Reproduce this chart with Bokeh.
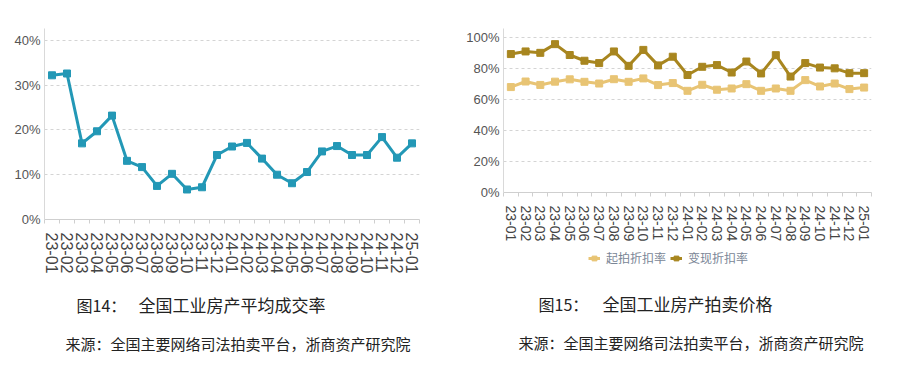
import math
from bokeh.plotting import figure
from bokeh.models import Range1d, FixedTicker, PrintfTickFormatter, Label, Legend, LegendItem
from bokeh.layouts import row, column
from bokeh.embed import file_html
from bokeh.resources import INLINE

months = ["23-01", "23-02", "23-03", "23-04", "23-05", "23-06", "23-07", "23-08",
          "23-09", "23-10", "23-11", "23-12", "24-01", "24-02", "24-03", "24-04",
          "24-05", "24-06", "24-07", "24-08", "24-09", "24-10", "24-11", "24-12", "25-01"]

# 全国工业房产平均成交率 (%)
deal_rate = [32.2, 32.6, 17.0, 19.7, 23.2, 13.1, 11.7, 7.5, 10.2, 6.7, 7.2, 14.4, 16.3,
             17.1, 13.6, 10.0, 8.1, 10.6, 15.2, 16.4, 14.4, 14.4, 18.4, 13.8, 17.0]

# 起拍折扣率 (%)
start_discount = [68.0, 71.6, 69.4, 71.5, 73.0, 71.4, 70.3, 73.1, 71.4, 73.6, 69.3, 70.6, 65.6,
                  69.5, 66.3, 67.1, 69.9, 65.6, 67.1, 65.6, 72.5, 68.4, 70.3, 66.7, 67.7]

# 变现折扣率 (%)
realized_discount = [89.3, 91.0, 90.1, 95.7, 88.7, 85.0, 83.5, 91.0, 81.7, 92.0, 82.0, 87.6, 75.8,
                     81.1, 82.2, 77.4, 84.5, 76.8, 88.6, 74.8, 83.5, 80.6, 80.1, 77.0, 77.0]

left_ticks = [0, 10, 20, 30, 40]
right_ticks = [0, 20, 40, 60, 80, 100]

series_names = ["起拍折扣率", "变现折扣率"]
fig14_no = "图14："
fig14_title = "全国工业房产平均成交率"
fig15_no = "图15："
fig15_title = "全国工业房产拍卖价格"
source_text = "来源：全国主要网络司法拍卖平台，浙商资产研究院"

NUM_FONT = "Liberation Sans"
CJK_FONT = "Noto Sans CJK SC"
TEAL = "#2398b6"
LIGHT = "#e8c474"
DARK = "#a8861f"

x_idx = list(range(len(months)))
labels_map = {i: m for i, m in enumerate(months)}
minor = [i - 0.5 for i in range(len(months) + 1)]


def style(p, yticks, xlab_size):
    p.outline_line_color = None
    p.background_fill_color = "white"
    p.border_fill_color = "white"
    p.xgrid.grid_line_color = None
    p.ygrid.ticker = FixedTicker(ticks=yticks)
    p.ygrid.grid_line_color = "#d4d4d4"
    p.ygrid.grid_line_dash = "3 3"
    p.ygrid.grid_line_width = 1

    ya = p.yaxis[0]
    ya.ticker = FixedTicker(ticks=yticks)
    ya.formatter = PrintfTickFormatter(format="%d%%")
    ya.axis_line_color = "#d9d9d9"
    ya.major_tick_line_color = None
    ya.major_tick_out = 0
    ya.major_tick_in = 0
    ya.minor_tick_line_color = None
    ya.major_label_text_font = NUM_FONT
    ya.major_label_text_font_size = "13px"
    ya.major_label_text_color = "#555555"
    ya.major_label_standoff = 4

    xa = p.xaxis[0]
    xa.ticker = FixedTicker(ticks=x_idx, minor_ticks=minor)
    xa.major_label_overrides = labels_map
    xa.major_label_orientation = -math.pi / 2
    xa.axis_line_color = "#cfcfcf"
    xa.major_tick_line_color = None
    xa.major_tick_out = 0
    xa.major_tick_in = 0
    xa.minor_tick_line_color = "#cfcfcf"
    xa.minor_tick_out = 4
    xa.minor_tick_in = 0
    xa.major_label_text_font = NUM_FONT
    xa.major_label_text_font_size = xlab_size
    xa.major_label_text_color = "#444444"
    xa.major_label_standoff = 9


def caption_fig(col_x, left_border, frame_w, right_border, top, bottom):
    # frame spans page coordinates [col_x+left_border, col_x+left_border+frame_w] x [top, bottom]
    x0 = col_x + left_border
    c = figure(frame_width=frame_w, frame_height=bottom - top, output_backend="svg",
               toolbar_location=None,
               x_range=Range1d(x0, x0 + frame_w), y_range=Range1d(bottom, top),
               x_axis_type=None, y_axis_type=None,
               min_border_left=left_border, min_border_right=right_border,
               min_border_top=0, min_border_bottom=0)
    c.outline_line_color = None
    c.grid.grid_line_color = None
    c.border_fill_color = "white"
    c.background_fill_color = "white"
    return c


def add_captions(c, no_x, title_x, src_x, no_text, title_text):
    c.add_layout(Label(x=no_x, y=303, text=no_text, text_font=CJK_FONT, text_font_size="16px",
                       text_color="#222222", text_baseline="middle"))
    c.add_layout(Label(x=title_x, y=303, text=title_text, text_font=CJK_FONT, text_font_size="17px",
                       text_color="#222222", text_baseline="middle"))
    c.add_layout(Label(x=src_x, y=342, text=source_text, text_font=CJK_FONT, text_font_size="15px",
                       text_color="#222222", text_baseline="middle"))


# ---------- Left chart ----------
p1 = figure(frame_width=375, frame_height=191, output_backend="svg", toolbar_location=None,
            x_range=Range1d(-0.5, len(months) - 0.5), y_range=Range1d(0, 42.65),
            min_border_left=44, min_border_right=31, min_border_top=28, min_border_bottom=56)
style(p1, left_ticks, "16px")
p1.line(x_idx, deal_rate, line_color=TEAL, line_width=3)
p1.scatter(x_idx, deal_rate, marker="square", size=7, fill_color=TEAL, line_color=TEAL)

c1 = caption_fig(0, 44, 375, 31, 275, 361)
add_captions(c1, 76, 138, 65, fig14_no, fig14_title)

# ---------- Right chart ----------
p2 = figure(frame_width=368, frame_height=164, output_backend="svg", toolbar_location=None,
            x_range=Range1d(-0.5, len(months) - 0.5), y_range=Range1d(0, 105.8),
            min_border_left=53, min_border_right=21, min_border_top=28, min_border_bottom=52)
style(p2, right_ticks, "14px")
p2.line(x_idx, start_discount, line_color=LIGHT, line_width=3)
p2.scatter(x_idx, start_discount, marker="square", size=7, fill_color=LIGHT, line_color=LIGHT)
p2.line(x_idx, realized_discount, line_color=DARK, line_width=3)
p2.scatter(x_idx, realized_discount, marker="square", size=7, fill_color=DARK, line_color=DARK)

c2 = caption_fig(450, 53, 368, 21, 244, 361)
# The same series drawn in the caption strip (outside its visible range) so that the
# legend below the axis can show their swatches.
ll1 = c2.line(x_idx, start_discount, line_color=LIGHT, line_width=3)
ls1 = c2.scatter(x_idx, start_discount, marker="square", size=7, fill_color=LIGHT, line_color=LIGHT)
ll2 = c2.line(x_idx, realized_discount, line_color=DARK, line_width=3)
ls2 = c2.scatter(x_idx, realized_discount, marker="square", size=7, fill_color=DARK, line_color=DARK)
legend = Legend(items=[LegendItem(label=series_names[0], renderers=[ll1, ls1]),
                       LegendItem(label=series_names[1], renderers=[ll2, ls2])],
                location=(85, 95), orientation="horizontal",
                label_text_font=CJK_FONT, label_text_font_size="12px",
                label_text_color="#7a8696", glyph_width=12, glyph_height=12,
                label_standoff=6, spacing=4, padding=0, margin=0,
                border_line_color=None, background_fill_alpha=0)
c2.add_layout(legend, "center")
add_captions(c2, 538, 602, 518, fig15_no, fig15_title)

layout = row(column(p1, c1, spacing=0), column(p2, c2, spacing=0), spacing=0)
open("out.html", "w").write(file_html(layout, INLINE))
